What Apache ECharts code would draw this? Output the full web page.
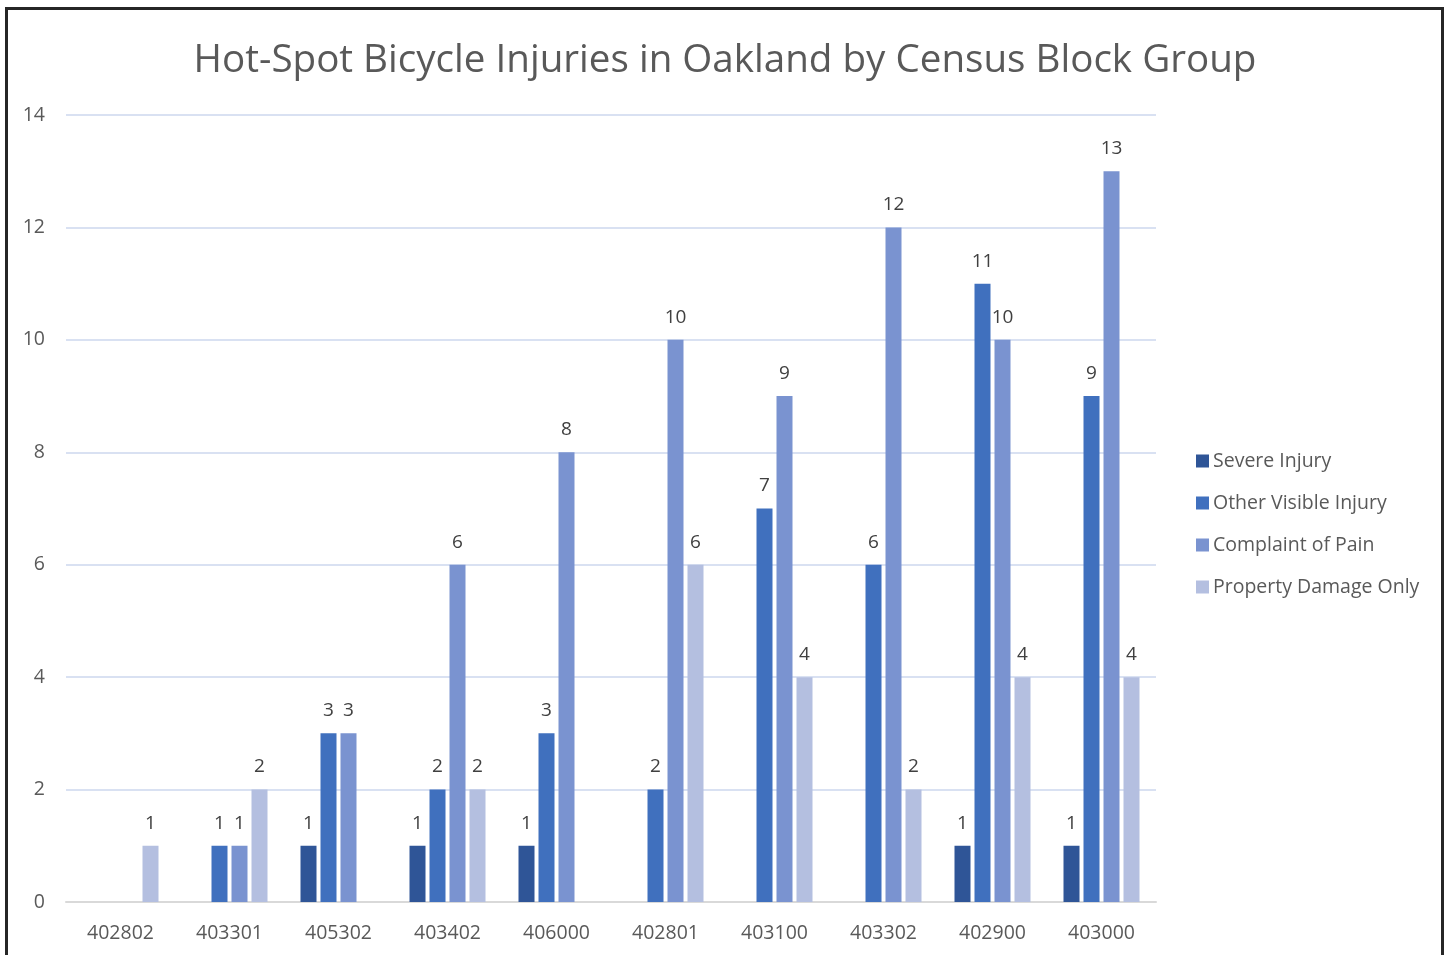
<!DOCTYPE html>
<html><head><meta charset="utf-8">
<script src="https://cdn.jsdelivr.net/npm/echarts@6/dist/echarts.min.js"></script>
<style>html,body{margin:0;padding:0;background:#fff}#c{width:1448px;height:955px}</style>
</head><body><div id="c"></div>
<script>
const categories = ['402802','403301','405302','403402','406000','402801','403100','403302','402900','403000'];
const severeInjury = [0,0,1,1,1,0,0,0,1,1];
const otherVisibleInjury = [0,1,3,2,3,2,7,6,11,9];
const complaintOfPain = [0,1,3,6,8,10,9,12,10,13];
const propertyDamageOnly = [1,2,0,2,0,6,4,2,4,4];
const seriesNames = ['Severe Injury','Other Visible Injury','Complaint of Pain','Property Damage Only'];
const colors = ['#2F5597','#4070BE','#7A93D0','#B4BFE0'];
const FONT = '"Open Sans", "Noto Sans", sans-serif';

const chart = echarts.init(document.getElementById('c'), null, {renderer:'canvas'});
const mk = (name, data, color) => ({
  name, type:'bar', data,
  barWidth: 16, barGap: '25%',
  itemStyle:{color},
  label:{show:true, position:'top', distance:13, color:'#404040', fontSize:19, fontFamily:FONT,
    formatter:p => p.value === 0 ? '' : String(p.value)}
});
chart.setOption({
  animation:false,
  title:{text:'Hot-Spot Bicycle Injuries in Oakland by Census Block Group', left:720, textAlign:'center', top:37,
    textStyle:{fontSize:38.6, fontWeight:'normal', color:'#595959', fontFamily:FONT}},
  legend:{orient:'vertical', left:1191, top:446, itemWidth:13, itemHeight:13, itemGap:22,
    icon:'rect', data:seriesNames,
    textStyle:{fontSize:19.5, color:'#595959', fontFamily:FONT, padding:[0,0,0,-1]}},
  grid:{left:66, right:292, top:115, bottom:53},
  xAxis:{type:'category', data:categories,
    axisLine:{lineStyle:{color:'#D9D9D9', width:2}}, axisTick:{show:false},
    axisLabel:{fontSize:19.5, color:'#595959', fontFamily:FONT, margin:21}},
  yAxis:{type:'value', min:0, max:14, interval:2,
    axisLine:{show:false}, axisTick:{show:false},
    splitLine:{lineStyle:{color:'#D9E1F2', width:2}},
    axisLabel:{fontSize:19.5, color:'#595959', fontFamily:FONT, margin:21}},
  series:[
    mk(seriesNames[0], severeInjury, colors[0]),
    mk(seriesNames[1], otherVisibleInjury, colors[1]),
    mk(seriesNames[2], complaintOfPain, colors[2]),
    mk(seriesNames[3], propertyDamageOnly, colors[3])
  ],
  graphic:[{type:'rect', shape:{x:6.5, y:8.5, width:1436, height:980},
    style:{fill:'none', stroke:'#262626', lineWidth:3}, silent:true, z:100}]
});
</script></body></html>
